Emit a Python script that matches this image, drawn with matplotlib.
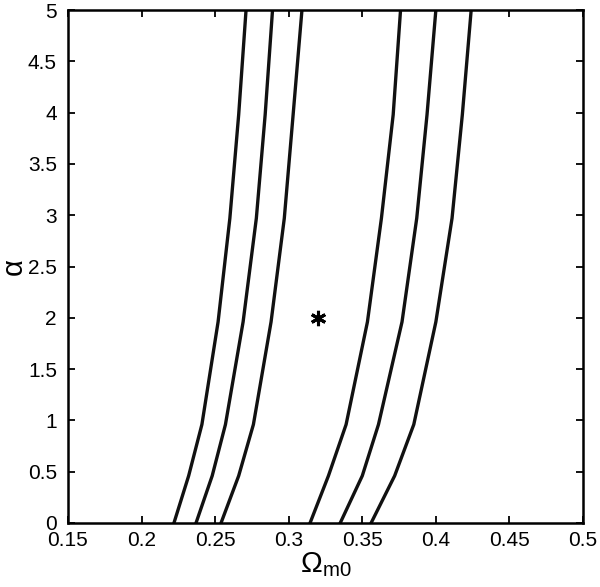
import matplotlib
matplotlib.use('Agg')
import matplotlib.pyplot as plt
import numpy as np

plt.rcParams['font.family'] = ['Liberation Sans', 'DejaVu Sans']
plt.rcParams['mathtext.fontset'] = 'custom'
plt.rcParams['mathtext.rm'] = 'Liberation Sans'
plt.rcParams['mathtext.it'] = 'Liberation Sans:italic'

alpha = [0.0, 0.46, 0.96, 1.96, 2.97, 3.98, 5.0]

# Omega_m0 der sechs Konturlinien (links 3, rechts 3)
c1 = [0.222, 0.232, 0.241, 0.252, 0.260, 0.266, 0.271]
c2 = [0.237, 0.248, 0.257, 0.269, 0.278, 0.284, 0.289]
c3 = [0.254, 0.266, 0.276, 0.288, 0.297, 0.303, 0.309]
c4 = [0.3145, 0.327, 0.339, 0.3535, 0.363, 0.371, 0.376]
c5 = [0.335, 0.350, 0.361, 0.377, 0.387, 0.394, 0.400]
c6 = [0.356, 0.372, 0.385, 0.400, 0.411, 0.418, 0.424]

# Bestfit-Punkt
best_om = 0.32
best_alpha = 2.0

xticks = [0.15, 0.2, 0.25, 0.3, 0.35, 0.4, 0.45, 0.5]
xticklabels = ['0.15', '0.2', '0.25', '0.3', '0.35', '0.4', '0.45', '0.5']
yticks = [0, 0.5, 1, 1.5, 2, 2.5, 3, 3.5, 4, 4.5, 5]
yticklabels = ['0', '0.5', '1', '1.5', '2', '2.5', '3', '3.5', '4', '4.5', '5']

fig = plt.figure(figsize=(6.0, 5.87), dpi=100)
ax = fig.add_axes([68 / 600, 64 / 587, 515 / 600, 513 / 587])

for c in [c1, c2, c3, c4, c5, c6]:
    ax.plot(c, alpha, color='#111111', lw=2.4, solid_joinstyle='round')

ax.plot(best_om, best_alpha, marker=(6, 2, 0), color='black',
        markersize=11, mew=2.2, linestyle='none')

ax.set_xlim(0.15, 0.5)
ax.set_ylim(0, 5)
ax.set_xticks(xticks)
ax.set_xticklabels(xticklabels)
ax.set_yticks(yticks)
ax.set_yticklabels(yticklabels)
ax.tick_params(direction='in', top=True, right=True, length=5, width=1.3,
               labelsize=15)
ax.tick_params(axis='x', pad=6)
ax.tick_params(axis='y', pad=8)
for s in ax.spines.values():
    s.set_linewidth(1.8)

ax.set_xlabel(r'$\Omega_{\rm m0}$', fontsize=21, labelpad=0)
ax.set_ylabel('α', fontsize=21, rotation=90, va='center', ha='center')
ax.yaxis.set_label_coords(-0.106, 0.5)

fig.savefig('out.png', dpi=100)
